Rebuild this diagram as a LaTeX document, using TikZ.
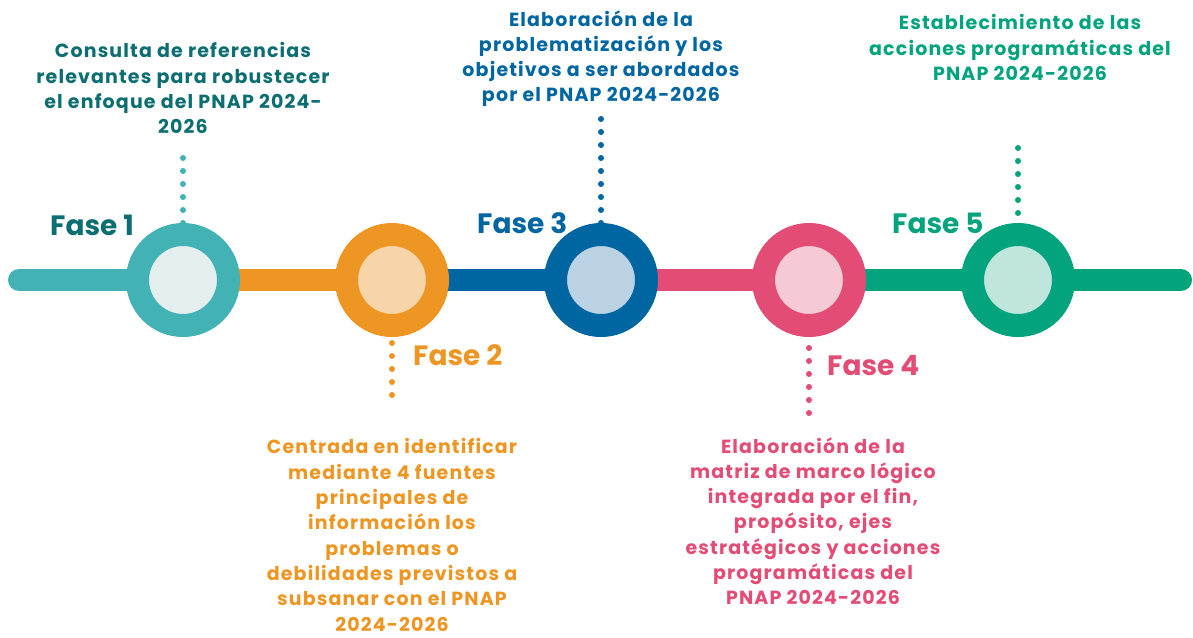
\documentclass[tikz,border=0pt]{standalone}
\usepackage{fontspec}
\setmainfont{Poppins}
\newfontfamily\descfont{Poppins}[LetterSpace=6]
\definecolor{tealc}{HTML}{42B2B4}
\definecolor{tealin}{HTML}{E4EEEE}
\definecolor{tealtx}{HTML}{0D6E72}
\definecolor{orangec}{HTML}{EE9623}
\definecolor{orangein}{HTML}{F7D5A8}
\definecolor{bluec}{HTML}{0066A1}
\definecolor{bluein}{HTML}{BAD2E4}
\definecolor{pinkc}{HTML}{E24C75}
\definecolor{pinkin}{HTML}{F5CAD4}
\definecolor{greenc}{HTML}{03A37E}
\definecolor{greenin}{HTML}{BFE5DC}
\tikzset{
  seg/.style={line width=22pt, line cap=round},
  ring/.style 2 args={circle, draw=#1, fill=#2, line width=23pt, minimum size=91pt, inner sep=0pt},
  dotline/.style={line width=6pt, line cap=round, dash pattern=on 0pt off 13pt},
  desc/.style={align=center, inner sep=0pt, anchor=north, font=\descfont\fontsize{19pt}{25.3pt}\selectfont\bfseries},
  fase/.style={anchor=base west, inner sep=0pt, font=\fontsize{28pt}{32pt}\selectfont\bfseries}
}
\begin{document}
\begin{tikzpicture}[x=1pt,y=-1pt]
\useasboundingbox (0,0) rectangle (1193,637);
\coordinate (L) at (19,280);
\coordinate (R) at (1181,280);
\coordinate (p1) at (183,280);
\coordinate (p2) at (392,280);
\coordinate (p3) at (601,280);
\coordinate (p4) at (809,280);
\coordinate (p5) at (1018,280);
% timeline segments
\draw[seg, tealc] (L) -- (p1);
\draw[seg, orangec] (p1) -- (p2);
\draw[seg, bluec] (p2) -- (p3);
\draw[seg, pinkc] (p3) -- (p4);
\draw[seg, greenc] (p4) -- (p5) -- (R);
% circles
\node[ring={tealc}{tealin}] (c1) at (p1) {};
\node[ring={orangec}{orangein}] (c2) at (p2) {};
\node[ring={bluec}{bluein}] (c3) at (p3) {};
\node[ring={pinkc}{pinkin}] (c4) at (p4) {};
\node[ring={greenc}{greenin}] (c5) at (p5) {};
% dotted leaders
\coordinate (d1) at (183,157);
\coordinate (d2) at (392,397);
\coordinate (d3) at (601,117);
\coordinate (d4) at (809,414);
\coordinate (d5) at (1018,147);
\draw[dotline, tealc] (c1.north) -- (d1);
\draw[dotline, orangec] ([yshift=-6pt]c2.south) -- (d2);
\draw[dotline, bluec] (c3.north) -- (d3);
\draw[dotline, pinkc] ([yshift=-11pt]c4.south) -- (d4);
\draw[dotline, greenc] ([yshift=10pt]c5.north) -- (d5);
% phase labels
\node[fase, text=tealtx] (f1) at (50,235) {Fase 1};
\node[fase, text=orangec] (f2) at (413,365) {Fase 2};
\node[fase, text=bluec] (f3) at (477,233) {Fase 3};
\node[fase, text=pinkc] (f4) at (827,375) {Fase 4};
\node[fase, text=greenc] (f5) at (892,233) {Fase 5};
% descriptions
\node[desc, text=tealtx] (t1) at (183,42.5) {Consulta de referencias\\relevantes para robustecer\\el enfoque del PNAP 2024-\\2026};
\node[desc, text=bluec] (t3) at (601,10) {Elaboración de la\\problematización y los\\objetivos a ser abordados\\por el PNAP 2024-2026};
\node[desc, text=greenc] (t5) at (1020,14.5) {Establecimiento de las\\acciones programáticas del\\PNAP 2024-2026};
\node[desc, text=orangec] (t2) at (392,438.5) {Centrada en identificar\\mediante 4 fuentes\\principales de\\información los\\problemas o\\debilidades previstos a\\subsanar con el PNAP\\2024-2026};
\node[desc, text=pinkc] (t4) at (813,437) {Elaboración de la\\matriz de marco lógico\\integrada por el fin,\\propósito, ejes\\estratégicos y acciones\\programáticas del\\PNAP 2024-2026};
\end{tikzpicture}
\end{document}
